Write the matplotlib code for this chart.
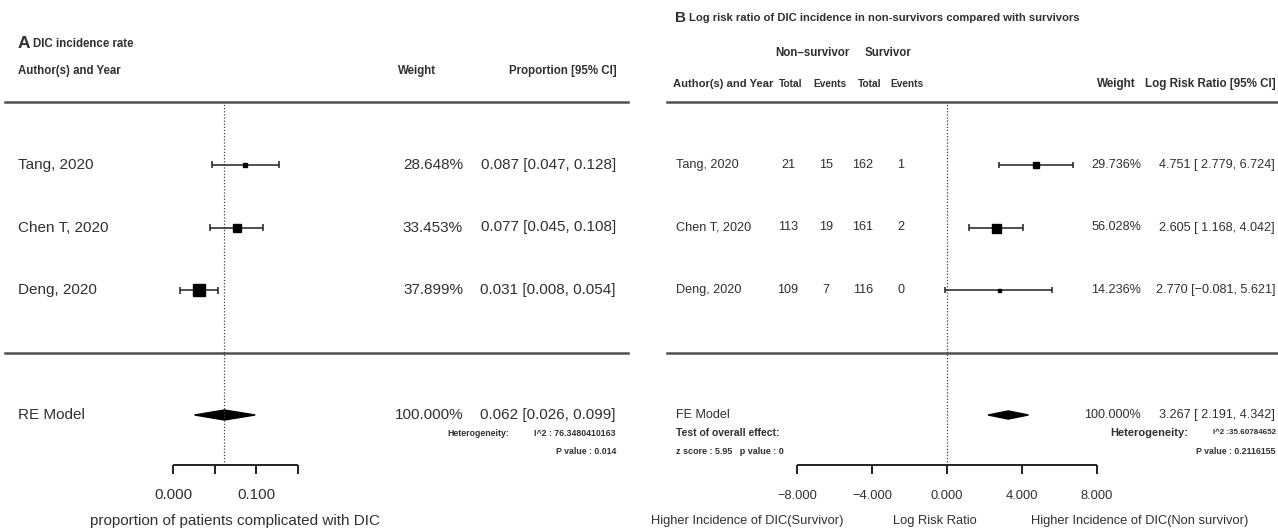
import matplotlib
matplotlib.use("Agg")
import matplotlib.pyplot as plt
import matplotlib.transforms as mtransforms
from matplotlib.patches import Polygon

# ---- data: panel A (DIC incidence rate) ----
studies = ["Tang, 2020", "Chen T, 2020", "Deng, 2020"]
prop_est = [0.087, 0.077, 0.031]
prop_lo = [0.047, 0.045, 0.008]
prop_hi = [0.128, 0.108, 0.054]
weights_a = [28.648, 33.453, 37.899]
re_model = (0.062, 0.026, 0.099)
het_a = "I^2 : 76.3480410163"
pval_a = "P value : 0.014"
ticks_a = [0.0, 0.05, 0.10, 0.15]
ticklabels_a = ["0.000", "", "0.100", ""]

# ---- data: panel B (log risk ratio) ----
ns_total = [21, 113, 109]
ns_events = [15, 19, 7]
s_total = [162, 161, 116]
s_events = [1, 2, 0]
lrr_est = [4.751, 2.605, 2.770]
lrr_lo = [2.779, 1.168, -0.081]
lrr_hi = [6.724, 4.042, 5.621]
weights_b = [29.736, 56.028, 14.236]
fe_model = (3.267, 2.191, 4.342)
het_b = "I^2 :35.60784652"
pval_b = "P value : 0.2116155"
ticks_b = [-8, -4, 0, 4, 8]

W, H = 1278, 529
TXT = "#303030"
LINE = "#505050"
plt.rcParams['font.family'] = ['Liberation Sans', 'DejaVu Sans']

fig = plt.figure(figsize=(W / 100, H / 100), dpi=100)

# row layout (row units): studies at 3,2,1, rules at 4 and 0, summary at -1
rows = [3, 2, 1]
YLIM = (-2.824, 5.64)
AXIS_Y = -1.792
TICK_D = 0.152


def psize(w, base):
    # metafor-style point sizes between 0.5 and 1.5
    lo, hi = min(w), max(w)
    return [(0.5 + (v - lo) / (hi - lo)) * base * 0.72 for v in w]


def put(x, y, s, size=11, weight="normal", ha="left", ax=None, **kw):
    if ax is None:
        fig.text(x / W, 1 - y / H, s, fontsize=size, fontweight=weight,
                 ha=ha, va="center", color=TXT, **kw)
    else:
        tr = mtransforms.blended_transform_factory(fig.transFigure, ax.transData)
        ax.text(x / W, y, s, fontsize=size, fontweight=weight, ha=ha,
                va="center", color=TXT, transform=tr, clip_on=False, **kw)


def forest(ax, est, lo, hi, sizes, summ, ticks, cap, dh, lw_axis):
    for r, e, l, h, s in zip(rows, est, lo, hi, sizes):
        ax.hlines(r, l, h, color="#202020", lw=1.1)
        ax.vlines([l, h], r - cap, r + cap, color="#202020", lw=1.1)
        ax.plot(e, r, marker="s", ms=s, color="black", mec="black")
    e, l, h = summ
    ax.add_patch(Polygon([(l, -1), (e, -1 + dh), (h, -1), (e, -1 - dh)],
                         closed=True, color="black"))
    ax.hlines(AXIS_Y, ticks[0], ticks[-1], color="#202020", lw=lw_axis)
    ax.vlines(ticks, AXIS_Y - TICK_D, AXIS_Y, color="#202020", lw=lw_axis)
    ax.set_ylim(*YLIM)
    ax.axis("off")


# ================= panel A =================
axA = fig.add_axes([0, 0, 640 / W, 1])
axA.set_xlim((0 - 173) / 830, (640 - 173) / 830)
axA.axhline(4, xmin=5 / 640, xmax=628 / 640, color=LINE, lw=1.8)
axA.axhline(0, xmin=5 / 640, xmax=628 / 640, color=LINE, lw=1.8)
axA.vlines(re_model[0], AXIS_Y, 4, color="#404040", lw=0.9, linestyles=(0, (1, 1.5)))
forest(axA, prop_est, prop_lo, prop_hi, psize(weights_a, 7.5), re_model,
       ticks_a, 0.056, 0.08, 1.4)
for t, lab in zip(ticks_a, ticklabels_a):
    axA.text(t, -2.28, lab, fontsize=11, ha="center", va="center", color=TXT)
axA.text((ticks_a[0] + ticks_a[-1]) / 2, -2.70,
         "proportion of patients complicated with DIC",
         fontsize=11, ha="center", va="center", color=TXT)

put(18, 43, "A", size=12.5, weight="bold")
put(33, 44, "DIC incidence rate", size=8.3, weight="bold")
put(18, 71, "Author(s) and Year", size=8.3, weight="bold")
put(398, 71, "Weight", size=8.3, weight="bold")
put(617, 71, "Proportion [95% CI]", size=8.3, weight="bold", ha="right")
for r, name, w, e, l, h in zip(rows, studies, weights_a, prop_est, prop_lo, prop_hi):
    put(18, r, name, size=11, ax=axA)
    put(463, r, f"{w:.3f}%", size=11, ha="right", ax=axA)
    put(616, r, f"{e:.3f} [{l:.3f}, {h:.3f}]", size=11, ha="right", ax=axA)
put(18, -1, "RE Model", size=11, ax=axA)
put(463, -1, "100.000%", size=11, ha="right", ax=axA)
put(616, -1, "{:.3f} [{:.3f}, {:.3f}]".format(*re_model), size=11, ha="right", ax=axA)
put(447, 433, "Heterogeneity:", size=6.3, weight="bold")
put(616, 433, het_a, size=6.3, weight="bold", ha="right")
put(616, 451, pval_a, size=6.3, weight="bold", ha="right")

# ================= panel B =================
axB = fig.add_axes([640 / W, 0, 638 / W, 1])
axB.set_xlim((640 - 947) / 18.75, (1278 - 947) / 18.75)
axB.axhline(4, xmin=27 / 638, xmax=1, color=LINE, lw=1.8)
axB.axhline(0, xmin=27 / 638, xmax=1, color=LINE, lw=1.8)
axB.vlines(0, AXIS_Y, 4, color="#404040", lw=0.9, linestyles=(0, (1, 1.5)))
forest(axB, lrr_est, lrr_lo, lrr_hi, psize(weights_b, 6.0), fe_model,
       ticks_b, 0.048, 0.065, 1.4)
for t in ticks_b:
    axB.text(t, -2.30, f"{t:.3f}".replace("-", "\u2212"), fontsize=9.3,
             ha="center", va="center", color=TXT)

put(675, 18, "B", size=11, weight="bold")
put(689, 18, "Log risk ratio of DIC incidence in non-survivors compared with survivors",
    size=8.1, weight="bold")
put(775, 53, "Non\u2013survivor", size=8.3, weight="bold")
put(865, 53, "Survivor", size=8.3, weight="bold")
put(673, 84, "Author(s) and Year", size=8.1, weight="bold")
for x, lab in zip([779, 813, 858, 890], ["Total", "Events", "Total", "Events"]):
    put(x, 84, lab, size=7.3, weight="bold")
put(1097, 84, "Weight", size=8.4, weight="bold")
put(1276, 84, "Log Risk Ratio [95% CI]", size=8.4, weight="bold", ha="right")

for i, r in enumerate(rows):
    put(676, r, studies[i], size=9.1, ax=axB)
    for x, v in zip([788, 826, 863, 901],
                    [ns_total[i], ns_events[i], s_total[i], s_events[i]]):
        put(x, r, str(v), size=9.1, ha="center", ax=axB)
    put(1141, r, f"{weights_b[i]:.3f}%", size=9.1, ha="right", ax=axB)
    txt = f"{lrr_est[i]:.3f} [{lrr_lo[i]:6.3f}, {lrr_hi[i]:.3f}]".replace("-", "\u2212")
    put(1275, r, txt, size=9.1, ha="right", ax=axB)
put(676, -1, "FE Model", size=9.1, ax=axB)
put(1141, -1, "100.000%", size=9.1, ha="right", ax=axB)
put(1275, -1, "{:.3f} [{:6.3f}, {:.3f}]".format(*fe_model), size=9.1, ha="right", ax=axB)
put(676, 433, "Test of overall effect:", size=7.5, weight="bold")
put(676, 452, "z score : 5.95   p value : 0", size=6.5, weight="bold")
put(1110, 433, "Heterogeneity:", size=8, weight="bold")
put(1276, 433, het_b, size=5.8, weight="bold", ha="right")
put(1276, 452, pval_b, size=6.3, weight="bold", ha="right")

put(747, 521, "Higher Incidence of DIC(Survivor)", size=9.3, ha="center")
put(935, 521, "Log Risk Ratio", size=9.3, ha="center")
put(1140, 521, "Higher Incidence of DIC(Non survivor)", size=9.3, ha="center")

fig.savefig("out.png", dpi=100, facecolor="white")
